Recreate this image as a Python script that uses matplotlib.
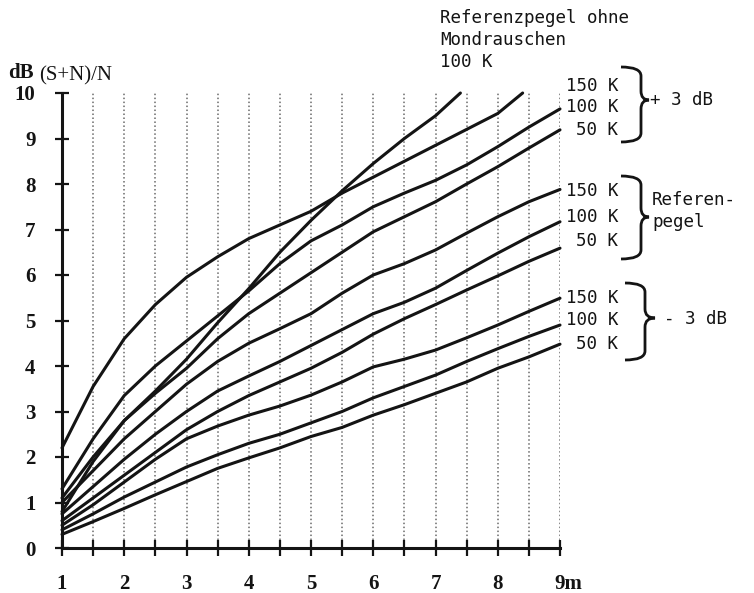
import numpy as np
import matplotlib
matplotlib.use("Agg")
import matplotlib.pyplot as plt
from matplotlib.path import Path
from matplotlib.patches import PathPatch
from matplotlib.transforms import ScaledTranslation

# distance axis (m) and curve values in dB
x_full = [1, 1.5, 2, 2.5, 3, 3.5, 4, 4.5, 5, 5.5, 6, 6.5, 7, 7.5, 8, 8.5, 9]

plus3_150_x = [1, 1.5, 2, 2.5, 3, 3.5, 4, 4.5, 5, 5.5, 6, 6.5, 7, 7.5, 8, 8.4]
plus3_150 = [2.2, 3.55, 4.6, 5.35, 5.95, 6.4, 6.8, 7.1, 7.4, 7.8, 8.15, 8.5, 8.85, 9.2, 9.55, 10.0]

ohne_x = [1, 1.5, 2, 2.5, 3, 3.5, 4, 4.5, 5, 5.5, 6, 6.5, 7, 7.4]
ohne_100 = [0.8, 1.9, 2.8, 3.45, 4.15, 4.95, 5.7, 6.5, 7.2, 7.85, 8.45, 9.0, 9.5, 10.0]

plus3_100 = [1.3, 2.4, 3.35, 4.0, 4.55, 5.1, 5.65, 6.25, 6.75, 7.1, 7.5, 7.8, 8.08, 8.42, 8.82, 9.25, 9.65]
plus3_50 = [1.1, 2.0, 2.8, 3.4, 3.95, 4.6, 5.15, 5.6, 6.05, 6.5, 6.95, 7.28, 7.61, 8.0, 8.38, 8.79, 9.19]
ref_150 = [1.0, 1.7, 2.4, 3.0, 3.6, 4.1, 4.5, 4.82, 5.15, 5.6, 6.0, 6.25, 6.55, 6.92, 7.28, 7.61, 7.88]
ref_100 = [0.75, 1.35, 1.95, 2.5, 3.0, 3.45, 3.78, 4.1, 4.45, 4.8, 5.15, 5.4, 5.71, 6.1, 6.48, 6.84, 7.17]
ref_50 = [0.6, 1.1, 1.6, 2.1, 2.6, 3.0, 3.35, 3.65, 3.95, 4.3, 4.7, 5.04, 5.35, 5.67, 5.98, 6.3, 6.59]
minus3_150 = [0.5, 0.95, 1.45, 1.95, 2.4, 2.68, 2.92, 3.12, 3.36, 3.65, 3.98, 4.15, 4.35, 4.62, 4.9, 5.2, 5.49]
minus3_100 = [0.4, 0.75, 1.12, 1.45, 1.78, 2.05, 2.3, 2.5, 2.75, 3.0, 3.3, 3.55, 3.8, 4.1, 4.38, 4.65, 4.9]
minus3_50 = [0.3, 0.58, 0.87, 1.17, 1.46, 1.75, 1.98, 2.2, 2.45, 2.65, 2.92, 3.15, 3.4, 3.65, 3.95, 4.2, 4.48]

x_ticks = [1, 2, 3, 4, 5, 6, 7, 8, 9]
x_ticklabels = ["1", "2", "3", "4", "5", "6", "7", "8", "9m"]
y_ticks = [0, 1, 2, 3, 4, 5, 6, 7, 8, 9, 10]

group_labels = ["150 K", "100 K", "50 K"]

serif = "Liberation Serif"
mono = "DejaVu Sans Mono"
ink = "#141414"
msize = 12.6

W, H = 754, 593
fig = plt.figure(figsize=(W / 100, H / 100), dpi=100)
ax = fig.add_axes([62 / W, (H - 548) / H, 498 / W, 455 / H])
ax.set_xlim(1, 9)
ax.set_ylim(0, 10)

for s in ["top", "right"]:
    ax.spines[s].set_visible(False)
for s in ["left", "bottom"]:
    ax.spines[s].set_linewidth(2.2)
    ax.spines[s].set_color(ink)

ax.set_xticks(x_ticks)
ax.set_xticklabels(x_ticklabels)
ax.set_xticks(np.arange(1.5, 9, 1.0), minor=True)
ax.set_yticks(y_ticks)
ax.tick_params(axis="both", which="both", direction="inout", color=ink, width=1.6)
ax.tick_params(axis="x", which="both", length=11, pad=13)
ax.tick_params(axis="y", length=10, pad=14)
for lab in ax.get_xticklabels() + ax.get_yticklabels():
    lab.set_fontfamily(serif)
    lab.set_fontsize(15)
    lab.set_fontweight("bold")
    lab.set_color(ink)
last = ax.get_xticklabels()[-1]
last.set_horizontalalignment("left")
last.set_transform(last.get_transform() + ScaledTranslation(-6 / 100, 0, fig.dpi_scale_trans))

ax.grid(True, which="both", axis="x", linestyle=(0, (1, 1.6)), color="#6a6a6a", linewidth=1.1)
ax.set_axisbelow(True)

curves = [
    (plus3_150_x, plus3_150),
    (ohne_x, ohne_100),
    (x_full, plus3_100),
    (x_full, plus3_50),
    (x_full, ref_150),
    (x_full, ref_100),
    (x_full, ref_50),
    (x_full, minus3_150),
    (x_full, minus3_100),
    (x_full, minus3_50),
]
for xs, ys in curves:
    ax.plot(xs, ys, color=ink, linewidth=2.2, solid_capstyle="round",
            solid_joinstyle="round", clip_on=False)

# overlay in pixel coordinates for the annotations
ov = fig.add_axes([0, 0, 1, 1])
ov.set_xlim(0, W)
ov.set_ylim(H, 0)
ov.axis("off")

ov.text(8, 73, "dB", fontfamily=serif, fontsize=15, fontweight="bold", color=ink, va="center")
ov.text(39, 76, "(S+N)/N", fontfamily=serif, fontsize=15, color=ink, va="center")

ov.text(440, 18, "Referenzpegel ohne", fontfamily=mono, fontsize=msize, color=ink, va="center")
ov.text(440, 40, "Mondrauschen", fontfamily=mono, fontsize=msize, color=ink, va="center")
ov.text(440, 62, "100 K", fontfamily=mono, fontsize=msize, color=ink, va="center")


def brace(x_left, x_spine, x_tip, y_top, y_mid, y_bot, r=9):
    verts = [
        (x_left, y_top), (x_spine, y_top), (x_spine, y_top + r),
        (x_spine, y_mid - r), (x_spine, y_mid), (x_tip, y_mid),
        (x_spine, y_mid), (x_spine, y_mid + r),
        (x_spine, y_bot - r), (x_spine, y_bot), (x_left, y_bot),
    ]
    codes = [
        Path.MOVETO, Path.CURVE3, Path.CURVE3,
        Path.LINETO, Path.CURVE3, Path.CURVE3,
        Path.CURVE3, Path.CURVE3,
        Path.LINETO, Path.CURVE3, Path.CURVE3,
    ]
    ov.add_patch(PathPatch(Path(verts, codes), fill=False, edgecolor=ink, linewidth=2.0))


group_rows = [(86, 107, 130), (191, 217, 241), (298, 320, 344)]
for rows in group_rows:
    for lab, yy in zip(group_labels, rows):
        ov.text(618, yy, lab, fontfamily=mono, fontsize=msize, color=ink, va="center", ha="right")

brace(621, 641, 649, 67, 100, 142)
brace(621, 641, 649, 176, 217, 259)
brace(625, 645, 655, 283, 318, 360)

ov.text(650, 100, "+ 3 dB", fontfamily=mono, fontsize=msize, color=ink, va="center")
ov.text(652, 200, "Referen-", fontfamily=mono, fontsize=msize, color=ink, va="center")
ov.text(652, 222, "pegel", fontfamily=mono, fontsize=msize, color=ink, va="center")
ov.text(664, 319, "- 3 dB", fontfamily=mono, fontsize=msize, color=ink, va="center")

fig.savefig("out.png", dpi=100, facecolor="white")
